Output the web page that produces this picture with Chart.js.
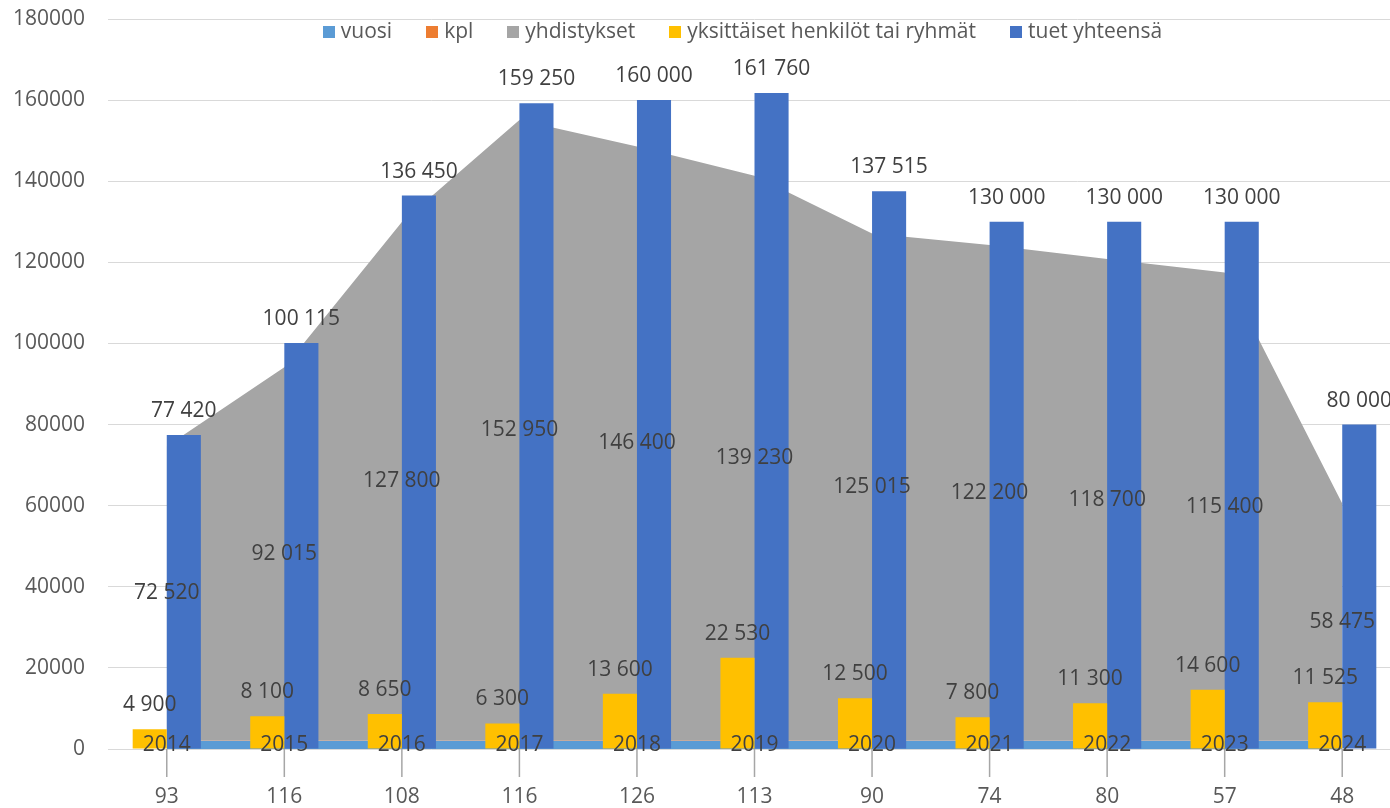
<!DOCTYPE html>
<html>
<head>
<meta charset="utf-8">
<script src="https://cdn.jsdelivr.net/npm/chart.js@4/dist/chart.umd.min.js"></script>
<style>
body { margin: 0; overflow: hidden; background: #fff; font-family: "Open Sans", sans-serif; }
#wrap { position: relative; width: 1401px; height: 808px; }
#legend { position: absolute; top: 18px; left: 0; width: 1485px; display: flex; justify-content: center; line-height: 24px; font-size: 21px; color: #595959; }
#legend .item { display: flex; align-items: center; margin: 0 17px; white-space: nowrap; }
#legend .box { width: 12px; height: 12px; margin-right: 6px; position: relative; top: 2px; }
</style>
</head>
<body>
<div id="wrap">
  <canvas id="myChart"></canvas>
  <div id="legend"></div>
</div>
<script>
var vuosi = [2014, 2015, 2016, 2017, 2018, 2019, 2020, 2021, 2022, 2023, 2024];
var kpl = [93, 116, 108, 116, 126, 113, 90, 74, 80, 57, 48];
var yhdistykset = [72520, 92015, 127800, 152950, 146400, 139230, 125015, 122200, 118700, 115400, 58475];
var yksittaiset = [4900, 8100, 8650, 6300, 13600, 22530, 12500, 7800, 11300, 14600, 11525];
var tuet = [77420, 100115, 136450, 159250, 160000, 161760, 137515, 130000, 130000, 130000, 80000];
var yMin = 0, yMax = 180000, yStep = 20000;

var names = ['vuosi', 'kpl', 'yhdistykset', 'yksittäiset henkilöt tai ryhmät', 'tuet yhteensä'];
var colors = ['#5B9BD5', '#ED7D31', '#A5A5A5', '#FFC000', '#4472C4'];

function fmt(v) {
  return String(v).replace(/\B(?=(\d{3})+(?!\d))/g, '\u00a0');
}

// data labels + the little leader lines under the axis
var labelPlugin = {
  id: 'labels',
  afterDatasetsDraw: function(chart) {
    var ctx = chart.ctx;
    var xs = chart.scales.x;
    var y0 = chart.scales.y.getPixelForValue(0);
    ctx.save();
    ctx.strokeStyle = '#A6A6A6';
    ctx.lineWidth = 1.5;
    for (var j = 0; j < kpl.length; j++) {
      var px = xs.getPixelForTick(j);
      ctx.beginPath();
      ctx.moveTo(px, chart.chartArea.bottom);
      ctx.lineTo(px, chart.chartArea.bottom + 28);
      ctx.stroke();
    }
    ctx.font = '21px "Open Sans"';
    ctx.fillStyle = '#404040';
    ctx.textAlign = 'center';
    ctx.textBaseline = 'middle';
    var vu = chart.getDatasetMeta(0).data;
    var kp = chart.getDatasetMeta(1).data;
    var yh = chart.getDatasetMeta(2).data;
    var yk = chart.getDatasetMeta(3).data;
    var tu = chart.getDatasetMeta(4).data;
    for (var i = 0; i < vuosi.length; i++) {
      ctx.fillText(fmt(yhdistykset[i]), yh[i].x, (yh[i].y + kp[i].y) / 2);
      ctx.fillText(fmt(yksittaiset[i]), yk[i].x, yk[i].y - 24);
      ctx.fillText(fmt(tuet[i]), tu[i].x, tu[i].y - 24);
      ctx.fillText(String(vuosi[i]), vu[i].x, (vu[i].y + y0) / 2);
    }
    ctx.restore();
  }
};

var areaStyle = { type: 'line', stack: 'area', pointRadius: 0, borderWidth: 0, tension: 0, order: 1 };

var chart = new Chart(document.getElementById('myChart').getContext('2d'), {
  type: 'bar',
  data: {
    labels: kpl.map(String),
    datasets: [
      Object.assign({ label: names[0], data: vuosi, backgroundColor: colors[0], borderColor: colors[0], fill: 'origin' }, areaStyle),
      Object.assign({ label: names[1], data: kpl, backgroundColor: colors[1], borderColor: colors[1], fill: '-1' }, areaStyle),
      Object.assign({ label: names[2], data: yhdistykset, backgroundColor: colors[2], borderColor: colors[2], fill: '-1' }, areaStyle),
      { label: names[3], data: yksittaiset, backgroundColor: colors[3], order: 0 },
      { label: names[4], data: tuet, backgroundColor: colors[4], order: 0 }
    ]
  },
  options: {
    responsive: true,
    maintainAspectRatio: false,
    animation: false,
    categoryPercentage: 0.58,
    barPercentage: 1,
    layout: { padding: { top: 19, left: 0, right: 0, bottom: 0 } },
    plugins: { legend: { display: false }, tooltip: { enabled: false } },
    scales: {
      x: {
        grid: { display: false, drawTicks: false },
        border: { display: false },
        ticks: { color: '#595959', font: { family: 'Open Sans', size: 21 }, padding: 35, maxRotation: 0 },
        afterFit: function(scale) { scale.height = 59; }
      },
      y: {
        min: yMin,
        max: yMax,
        grid: { color: '#D9D9D9', lineWidth: 1, drawTicks: false },
        border: { display: false },
        ticks: {
          stepSize: yStep,
          color: '#595959',
          font: { family: 'Open Sans', size: 21 },
          padding: 23,
          callback: function(v) { return String(v); }
        },
        afterFit: function(scale) {
          scale.width = 108;
          scale.paddingTop = 0;
          scale.paddingBottom = 0;
        }
      }
    }
  },
  plugins: [labelPlugin]
});

// legend sits over the plot area like in excel
var leg = document.getElementById('legend');
names.forEach(function(n, i) {
  var item = document.createElement('div');
  item.className = 'item';
  var box = document.createElement('span');
  box.className = 'box';
  box.style.background = colors[i];
  item.appendChild(box);
  var t = document.createElement('span');
  t.textContent = n;
  item.appendChild(t);
  leg.appendChild(item);
});
</script>
</body>
</html>
